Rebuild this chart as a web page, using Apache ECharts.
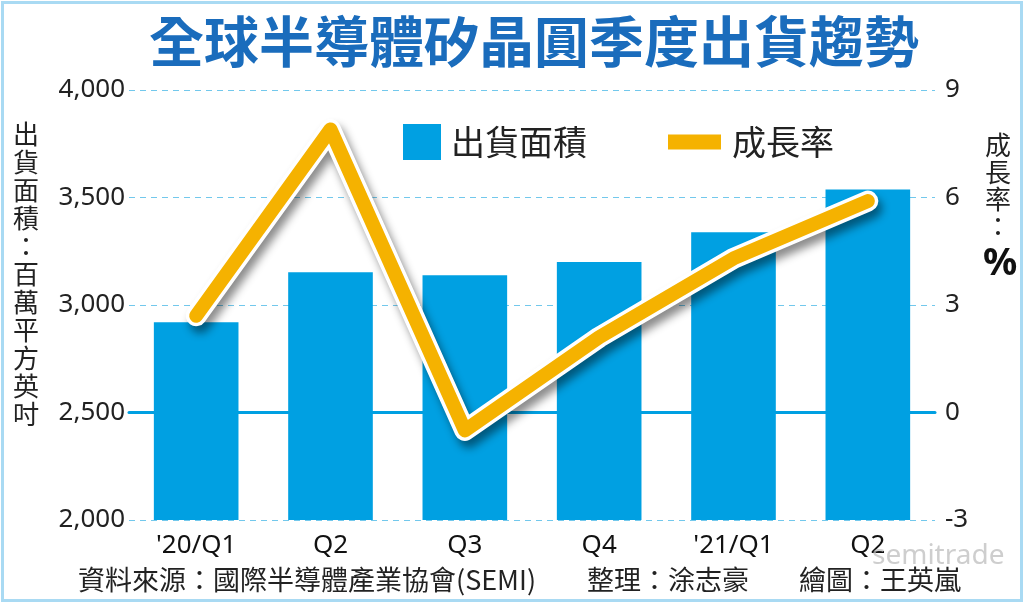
<!DOCTYPE html>
<html>
<head>
<meta charset="utf-8">
<script src="https://cdn.jsdelivr.net/npm/echarts@6/dist/echarts.min.js"></script>
<style>
  html, body { margin: 0; padding: 0; background: #fff; }
  #chart { width: 1024px; height: 603px; }
</style>
</head>
<body>
<div id="chart"></div>
<script>
// 資料
var quarters = ["'20/Q1", 'Q2', 'Q3', 'Q4', "'21/Q1", 'Q2'];
var shipArea = [2920, 3152, 3138, 3200, 3338, 3537];   // 百萬平方英吋
var growthRate = [2.7, 7.9, -0.5, 2.1, 4.3, 5.9];     // %
var areaTicks = { min: 2000, max: 4000, step: 500 };
var rateTicks = { min: -3, max: 9, step: 3 };
var baseLineValue = 2500;

var FONT = '"Noto Sans CJK TC", "Noto Sans", sans-serif';
var BLUE = '#00a0e2';
var YELLOW = '#f5b200';

var chart = echarts.init(document.getElementById('chart'));

var leftName = '出貨面積：百萬平方英吋'.split('').join('\n');
var rightName = '成長率：'.split('').join('\n');

var option = {
    backgroundColor: '#fff',
    animation: false,
    title: {
        text: '全球半導體矽晶圓季度出貨趨勢',
        left: 529,
        top: 9,
        textAlign: 'center',
        textStyle: {
            fontFamily: FONT,
            fontSize: 55,
            fontWeight: 'bold',
            color: '#1a6cbc'
        }
    },
    legend: [{
        data: ['出貨面積'],
        left: 398,
        top: 119,
        icon: 'rect',
        itemWidth: 38,
        itemHeight: 36,
        textStyle: { fontFamily: FONT, fontSize: 34, color: '#222', lineHeight: 36, padding: [0, 0, 0, 5] }
    }, {
        data: ['成長率'],
        left: 663,
        top: 119,
        icon: 'rect',
        itemWidth: 53,
        itemHeight: 15,
        textStyle: { fontFamily: FONT, fontSize: 34, color: '#222', lineHeight: 36, padding: [0, 0, 0, 6] }
    }],
    grid: { left: 129, right: 89, top: 90, bottom: 83 },
    xAxis: {
        type: 'category',
        data: quarters,
        axisLine: { lineStyle: { color: BLUE, width: 3 } },
        axisTick: { alignWithLabel: true, length: 7, lineStyle: { color: BLUE, width: 3 } },
        axisLabel: { fontFamily: '"Noto Sans", sans-serif', fontSize: 26, color: '#111', margin: 13 }
    },
    yAxis: [{
        type: 'value',
        min: areaTicks.min,
        max: areaTicks.max,
        interval: areaTicks.step,
        axisLine: { show: false },
        axisTick: { show: false },
        axisLabel: { fontFamily: '"Noto Sans", sans-serif', fontSize: 26, color: '#222', margin: 4 },
        splitLine: { lineStyle: { color: '#72c8ec', type: [6, 5], width: 1 } }
    }, {
        type: 'value',
        min: rateTicks.min,
        max: rateTicks.max,
        interval: rateTicks.step,
        axisLine: { show: false },
        axisTick: { show: false },
        axisLabel: { fontFamily: '"Noto Sans", sans-serif', fontSize: 26, color: '#222', margin: 10 },
        splitLine: { show: false }
    }],
    series: [{
        name: '出貨面積',
        type: 'bar',
        data: shipArea,
        barWidth: '63%',
        itemStyle: { color: BLUE },
        z: 2,
        markLine: {
            z: 1,
            silent: true,
            symbol: 'none',
            label: { show: false },
            lineStyle: { color: BLUE, type: 'solid', width: 3 },
            data: [{ yAxis: baseLineValue }]
        }
    }, {
        name: '成長率底',
        type: 'line',
        yAxisIndex: 1,
        data: growthRate,
        symbol: 'none',
        z: 3,
        lineStyle: {
            color: '#fff',
            width: 21,
            cap: 'round',
            join: 'round',
            shadowColor: 'rgba(0,0,0,0.45)',
            shadowBlur: 8,
            shadowOffsetX: 4,
            shadowOffsetY: 7
        }
    }, {
        name: '成長率',
        type: 'line',
        yAxisIndex: 1,
        data: growthRate,
        symbol: 'none',
        z: 4,
        itemStyle: { color: YELLOW },
        lineStyle: { color: YELLOW, width: 14, cap: 'round', join: 'round' }
    }],
    graphic: [{
        type: 'rect',
        left: 0,
        top: 0,
        shape: { x: 1.5, y: 1.5, width: 1019, height: 598 },
        style: { fill: 'none', stroke: '#a9daf3', lineWidth: 3 },
        silent: true
    }, {
        type: 'text',
        left: 13,
        top: 120,
        style: { text: leftName, fontFamily: FONT, fontSize: 26, lineHeight: 28, fill: '#222', align: 'center' }
    }, {
        type: 'text',
        left: 985,
        top: 132,
        style: { text: rightName, fontFamily: FONT, fontSize: 26, lineHeight: 27, fill: '#222' }
    }, {
        type: 'text',
        left: 983,
        top: 245,
        style: { text: '%', fontFamily: '"Noto Sans", sans-serif', fontSize: 38, fontWeight: 'bold', fill: '#111' }
    }, {
        type: 'text',
        left: 78,
        top: 566,
        style: { text: '資料來源：國際半導體產業協會(SEMI)', fontFamily: FONT, fontSize: 27, fill: '#222' }
    }, {
        type: 'text',
        left: 587,
        top: 566,
        style: { text: '整理：涂志豪', fontFamily: FONT, fontSize: 27, fill: '#222' }
    }, {
        type: 'text',
        left: 872,
        top: 542,
        z: 10,
        style: { text: 'semitrade', fontFamily: '"Noto Sans", sans-serif', fontSize: 28, fill: 'rgba(190,190,190,0.75)' }
    }, {
        type: 'text',
        left: 799,
        top: 566,
        style: { text: '繪圖：王英嵐', fontFamily: FONT, fontSize: 27, fill: '#222' }
    }]
};

chart.setOption(option);
window.onresize = function () {
    chart.resize();
};
</script>
</body>
</html>
